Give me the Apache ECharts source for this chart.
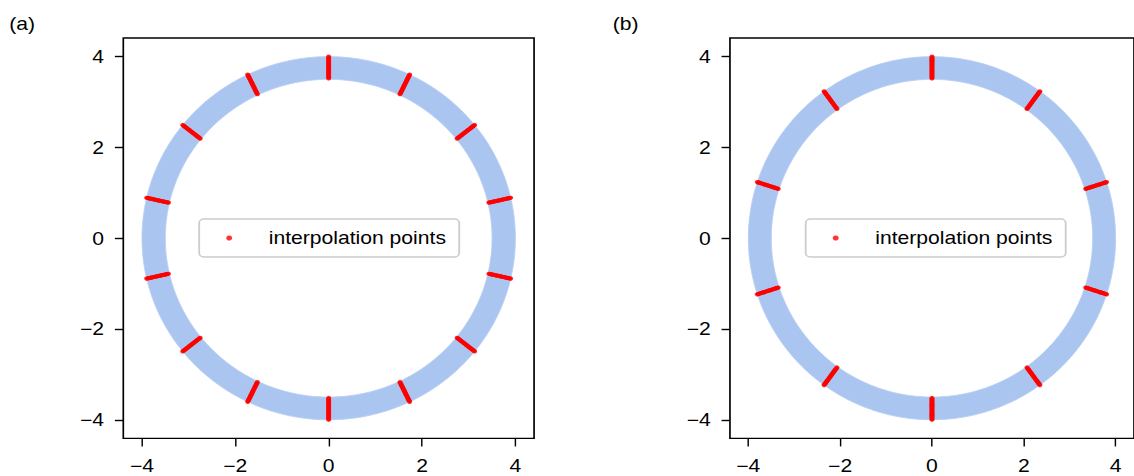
<!DOCTYPE html>
<html><head><meta charset="utf-8">
<script src="https://cdn.jsdelivr.net/npm/echarts@6/dist/echarts.min.js"></script>
<style>
html,body{margin:0;padding:0;background:#fff;overflow:hidden;width:1134px;height:476px}
#chart{width:945px;height:476px;transform:scaleX(1.2);transform-origin:0 0;}
</style></head>
<body><div id="chart"></div>
<script>
// ---- data ----
const xTicks = [-4, -2, 0, 2, 4];
const yTicks = [-4, -2, 0, 2, 4];
const ringInner = 3.5;
const ringOuter = 4.0;
const anglesA = [90, 64.29, 38.57, 12.86, -12.86, -38.57, -64.29, -90, -115.71, -141.43, -167.14, 167.14, 141.43, 115.71];
const anglesB = [90, 54, 18, -18, -54, -90, -126, -162, 162, 126];
const radialSamples = [3.52, 3.54, 3.56, 3.58, 3.60, 3.62, 3.64, 3.66, 3.68, 3.70, 3.72, 3.74, 3.76, 3.78, 3.80, 3.82, 3.84, 3.86, 3.88, 3.90, 3.92, 3.94, 3.96, 3.98, 4.00];
const panelTitles = ['(a)', '(b)'];
const legendName = 'interpolation points';

// ---- build ----
const FONT = "'Liberation Sans', Arial, Helvetica, sans-serif";
const FS = 17.6;
function pts(angles) {
  const out = [];
  angles.forEach(a => {
    const t = a * Math.PI / 180;
    radialSamples.forEach(r => out.push([r * Math.cos(t), r * Math.sin(t)]));
  });
  return out;
}
const fmt = v => String(v).replace('-', '\u2212');

function ringRender(params, api) {
  let d = '';
  const N = 240;
  for (let i = 0; i <= N; i++) {
    const t = 2 * Math.PI * i / N;
    const p = api.coord([ringOuter * Math.cos(t), ringOuter * Math.sin(t)]);
    d += (i === 0 ? 'M' : 'L') + p[0].toFixed(2) + ' ' + p[1].toFixed(2);
  }
  d += 'Z';
  for (let i = 0; i <= N; i++) {
    const t = -2 * Math.PI * i / N;
    const p = api.coord([ringInner * Math.cos(t), ringInner * Math.sin(t)]);
    d += (i === 0 ? 'M' : 'L') + p[0].toFixed(2) + ' ' + p[1].toFixed(2);
  }
  d += 'Z';
  return {type: 'path', shape: {pathData: d},
    style: {fill: '#abc5f1', stroke: '#b9cff3', lineWidth: 0.8}};
}

const gridLefts = [102.75, 608.3];
const legendLefts = [166, 671.4];
const titleLefts = [2.7, 505.7];
const grids = [], xAxes = [], yAxes = [], series = [], legends = [], titles = [];
[anglesA, anglesB].forEach((angles, i) => {
  grids.push({left: gridLefts[i], top: 38, width: 342.3, height: 400.4, show: true,
    borderColor: '#000', borderWidth: 1.4, backgroundColor: 'transparent'});
  xAxes.push({type: 'value', gridIndex: i, min: -4.4, max: 4.4, position: 'bottom',
    axisLine: {show: false, onZero: false},
    axisTick: {show: true, length: 8, customValues: xTicks, lineStyle: {color: '#000', width: 1.2}},
    axisLabel: {customValues: xTicks, formatter: fmt, margin: 18, fontSize: FS, fontFamily: FONT, color: '#000'},
    splitLine: {show: false}});
  yAxes.push({type: 'value', gridIndex: i, min: -4.41, max: 4.41, position: 'left',
    axisLine: {show: false, onZero: false},
    axisTick: {show: true, length: 7, customValues: yTicks, lineStyle: {color: '#000', width: 1.4}},
    axisLabel: {customValues: yTicks, formatter: fmt, margin: 16, fontSize: FS, fontFamily: FONT, color: '#000'},
    splitLine: {show: false}});
  series.push({type: 'custom', name: 'mesh', xAxisIndex: i, yAxisIndex: i,
    renderItem: ringRender, data: [[0, 0]], silent: true, z: 1, clip: false});
  series.push({type: 'scatter', name: legendName, xAxisIndex: i, yAxisIndex: i,
    data: pts(angles), symbol: 'circle', symbolSize: 4.2,
    itemStyle: {color: '#ff0000'}, z: 3, silent: true});
  legends.push({data: [legendName], left: legendLefts[i], top: 219, orient: 'horizontal',
    icon: 'circle', itemWidth: 36, itemHeight: 5, padding: [10, 11, 10, 22.5],
    textStyle: {fontSize: FS, fontFamily: FONT, color: '#000', padding: [0, 0, 0, 10]},
    backgroundColor: 'rgba(255,255,255,0.8)', borderColor: '#cccccc', borderWidth: 1.5,
    borderRadius: 4, selectedMode: false, itemStyle: {color: '#ff0000'}});
  titles.push({text: panelTitles[i], left: titleLefts[i], top: 10,
    textStyle: {fontSize: FS, fontWeight: 'normal', fontFamily: FONT, color: '#000'}});
});

const chart = echarts.init(document.getElementById('chart'), null, {renderer: 'svg'});
chart.setOption({
  animation: false,
  backgroundColor: '#fff',
  title: titles,
  grid: grids,
  xAxis: xAxes,
  yAxis: yAxes,
  legend: legends,
  series: series
});
</script>
</body></html>
